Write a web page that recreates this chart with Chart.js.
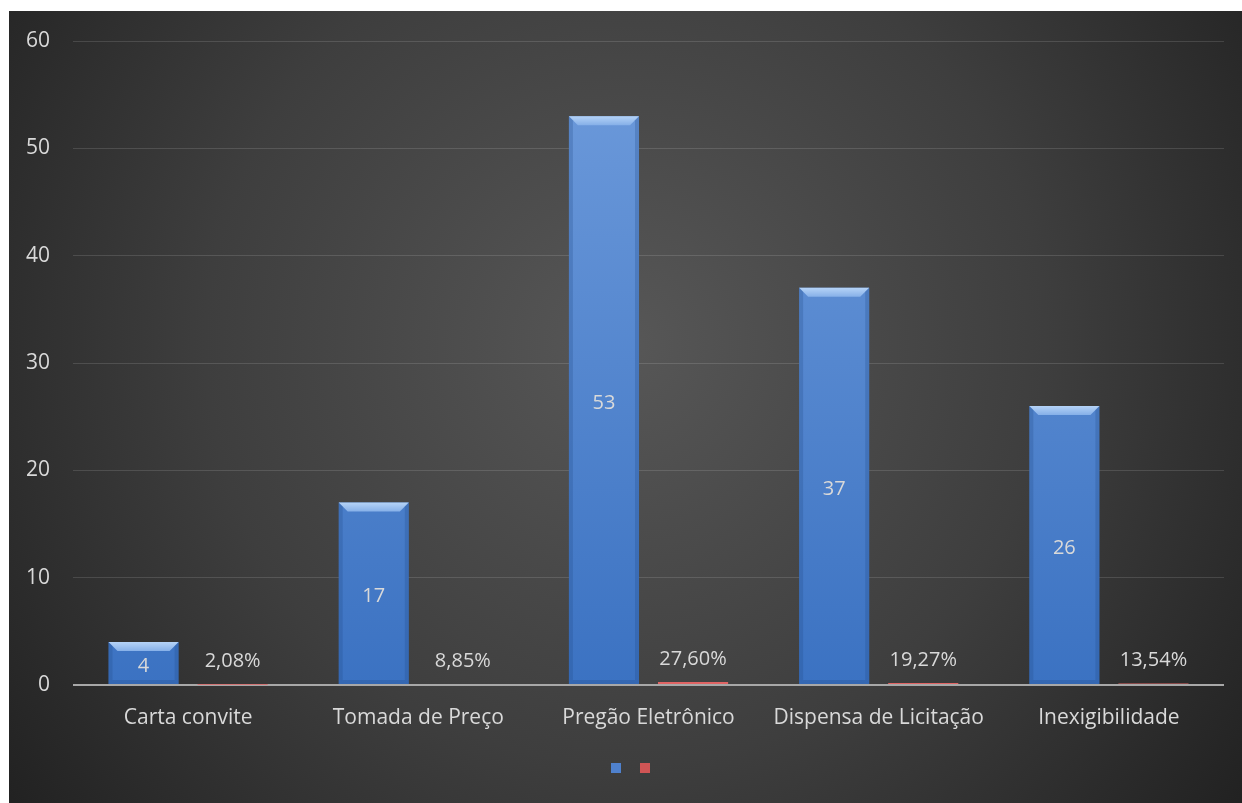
<!DOCTYPE html>
<html>
<head>
<meta charset="utf-8">
<title>Modalidades</title>
<script src="https://cdn.jsdelivr.net/npm/chart.js@4.4.1/dist/chart.umd.min.js"></script>
<style>
  html, body { margin: 0; padding: 0; background: #fff; }
  #wrap { position: absolute; left: 9px; top: 11px; width: 1233px; height: 792px; }
</style>
</head>
<body>
<div id="wrap"><canvas id="myBarChart"></canvas></div>
<script>
// Chart data
const categories = ["Carta convite", "Tomada de Preço", "Pregão Eletrônico", "Dispensa de Licitação", "Inexigibilidade"];
const counts = [4, 17, 53, 37, 26];
const shares = [0.0208, 0.0885, 0.2760, 0.1927, 0.1354];
const yTicks = [0, 10, 20, 30, 40, 50, 60];

const textColor = "#d9d9d9";
const fontFamily = "'Open Sans', 'Noto Sans', sans-serif";

// Dark radial backdrop, lighter in the middle
const backdropPlugin = {
  id: "backdrop",
  beforeDraw: (chart) => {
    const { ctx, width, height } = chart;
    const g = ctx.createRadialGradient(width * 0.5, height * 0.42, 0, width * 0.5, height * 0.42, width * 0.62);
    g.addColorStop(0, "#575757");
    g.addColorStop(0.55, "#3e3e3e");
    g.addColorStop(1, "#222222");
    ctx.save();
    ctx.fillStyle = g;
    ctx.fillRect(0, 0, width, height);
    ctx.restore();
  },
};

// Bevel highlights on each bar (skipped for the very thin ones)
const bevelPlugin = {
  id: "bevel",
  afterDatasetsDraw: (chart) => {
    const { ctx } = chart;
    ctx.save();
    chart.data.datasets.forEach((ds, di) => {
      const meta = chart.getDatasetMeta(di);
      meta.data.forEach((bar) => {
        const { x, y, base, width } = bar.getProps(["x", "y", "base", "width"], true);
        const left = x - width / 2;
        const right = x + width / 2;
        const top = Math.min(y, base);
        const bottom = Math.max(y, base);
        const h = bottom - top;
        if (h < 6) return;
        const b = Math.min(9, h / 2);
        const s = Math.min(4, h / 2);

        // top facet
        ctx.beginPath();
        ctx.moveTo(left, top);
        ctx.lineTo(right, top);
        ctx.lineTo(right - b, top + b);
        ctx.lineTo(left + b, top + b);
        ctx.closePath();
        const tg = ctx.createLinearGradient(0, top, 0, top + b);
        tg.addColorStop(0, ds.bevelLight);
        tg.addColorStop(1, ds.bevelMid);
        ctx.fillStyle = tg;
        ctx.fill();

        // side and bottom facets, a bit darker
        ctx.fillStyle = ds.bevelDark;
        ctx.beginPath();
        ctx.moveTo(left, top);
        ctx.lineTo(left + s, top + s);
        ctx.lineTo(left + s, bottom - s);
        ctx.lineTo(left, bottom);
        ctx.closePath();
        ctx.fill();
        ctx.beginPath();
        ctx.moveTo(right, top);
        ctx.lineTo(right - s, top + s);
        ctx.lineTo(right - s, bottom - s);
        ctx.lineTo(right, bottom);
        ctx.closePath();
        ctx.fill();
        ctx.beginPath();
        ctx.moveTo(left, bottom);
        ctx.lineTo(left + s, bottom - s);
        ctx.lineTo(right - s, bottom - s);
        ctx.lineTo(right, bottom);
        ctx.closePath();
        ctx.fill();
      });
    });
    ctx.restore();
  },
};

// Value labels: counts in the middle of the blue bars, shares above the red ones
const valueLabelPlugin = {
  id: "valueLabels",
  afterDatasetsDraw: (chart) => {
    const { ctx } = chart;
    ctx.save();
    ctx.font = "20px " + fontFamily;
    ctx.fillStyle = textColor;
    ctx.textAlign = "center";
    ctx.textBaseline = "middle";

    chart.getDatasetMeta(0).data.forEach((bar, i) => {
      const { x, y, base } = bar.getProps(["x", "y", "base"], true);
      ctx.fillText(String(counts[i]), x, (y + base) / 2 + 3);
    });

    chart.getDatasetMeta(1).data.forEach((bar, i) => {
      const { x, y } = bar.getProps(["x", "y"], true);
      const txt = (shares[i] * 100).toFixed(2).replace(".", ",") + "%";
      ctx.fillText(txt, x, y - 23);
    });
    ctx.restore();
  },
};

function verticalGradient(c, top, bottom, fallback) {
  const { chart } = c;
  const area = chart.chartArea;
  if (!area) return fallback;
  const g = chart.ctx.createLinearGradient(0, area.top, 0, area.bottom);
  g.addColorStop(0, top);
  g.addColorStop(1, bottom);
  return g;
}

const ctx = document.getElementById("myBarChart").getContext("2d");

const myBarChart = new Chart(ctx, {
  type: "bar",
  data: {
    labels: categories,
    datasets: [
      {
        label: "Quantidade",
        data: counts,
        backgroundColor: (c) => verticalGradient(c, "#6f9cdc", "#3b72c2", "#4f81cd"),
        bevelLight: "#b5d3f7",
        bevelMid: "#86b0e8",
        bevelDark: "rgba(30, 70, 130, 0.25)",
        legendColor: "#4f81cd",
        borderWidth: 0,
        categoryPercentage: 0.774,
        barPercentage: 0.787,
      },
      {
        label: "Percentual",
        data: shares,
        backgroundColor: "#e06464",
        bevelLight: "#f2a8a8",
        bevelMid: "#e07a7a",
        bevelDark: "rgba(120, 30, 30, 0.25)",
        legendColor: "#d05555",
        borderWidth: 0,
        categoryPercentage: 0.774,
        barPercentage: 0.787,
      },
    ],
  },
  options: {
    responsive: true,
    maintainAspectRatio: false,
    animation: false,
    layout: {
      padding: { left: 34, top: 30, right: 18, bottom: 19 },
    },
    scales: {
      x: {
        grid: { display: false, drawTicks: false },
        border: { display: false },
        ticks: {
          color: textColor,
          font: { family: fontFamily, size: 21 },
          padding: 20,
          maxRotation: 0,
        },
        afterFit: (scale) => {
          scale.height = 64;
        },
      },
      y: {
        min: 0,
        max: 60,
        afterBuildTicks: (scale) => {
          scale.ticks = yTicks.map((v) => ({ value: v }));
        },
        grid: {
          drawTicks: false,
          color: (c) => (c.tick && c.tick.value === 0 ? "#a8a8a8" : "rgba(255,255,255,0.13)"),
          lineWidth: (c) => (c.tick && c.tick.value === 0 ? 2 : 1),
        },
        border: { display: false },
        ticks: {
          color: textColor,
          font: { family: fontFamily, size: 21 },
          // labels are placed left of the axis box so the legend can sit centred like the original
          mirror: true,
          crossAlign: "far",
          padding: -47,
        },
        afterFit: (scale) => {
          scale.width = 30;
        },
      },
    },
    plugins: {
      legend: {
        position: "bottom",
        labels: {
          boxWidth: 10,
          boxHeight: 10,
          padding: 13,
          font: { size: 12 },
          generateLabels: (chart) =>
            chart.data.datasets.map((ds, i) => ({
              text: "",
              fillStyle: ds.legendColor,
              strokeStyle: ds.legendColor,
              lineWidth: 0,
              datasetIndex: i,
              hidden: false,
            })),
        },
      },
      tooltip: { enabled: false },
    },
  },
  plugins: [backdropPlugin, bevelPlugin, valueLabelPlugin],
});
</script>
</body>
</html>
